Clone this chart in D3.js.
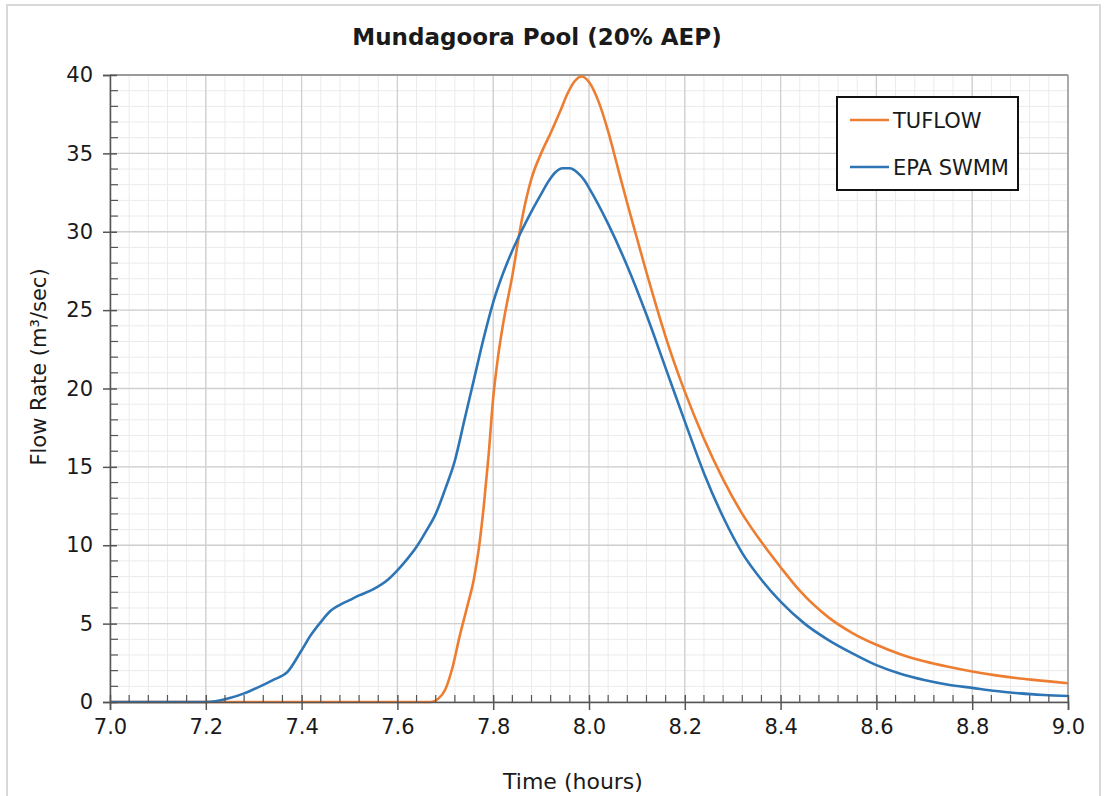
<!DOCTYPE html>
<html><head><meta charset="utf-8">
<script src="https://cdn.jsdelivr.net/npm/d3@7"></script>
<style>
body{margin:0;background:#fff;}
text{font-family:"DejaVu Sans",Verdana,sans-serif;fill:#1a1a1a;}
</style>
</head><body>
<svg id="chart" width="1104" height="796"></svg>
<script>
const chartTitle = "Mundagoora Pool (20% AEP)";
const xTitle = "Time (hours)";
const yTitle = "Flow Rate (m³/sec)";
const seriesNames = ["TUFLOW", "EPA SWMM"];
const seriesColors = ["#ED7D31", "#2E75B6"];

const tuflowTime = [7.00, 7.30, 7.60, 7.67, 7.685, 7.70, 7.715, 7.73, 7.745, 7.76, 7.77, 7.78, 7.79, 7.80, 7.81, 7.82, 7.84, 7.86, 7.88, 7.90, 7.92, 7.94, 7.955, 7.97, 7.985, 8.00, 8.02, 8.04, 8.06, 8.08, 8.10, 8.12, 8.14, 8.16, 8.20, 8.24, 8.28, 8.32, 8.36, 8.40, 8.44, 8.50, 8.55, 8.60, 8.65, 8.70, 8.75, 8.80, 8.85, 8.90, 8.95, 9.00];
const tuflowFlow = [0, 0, 0, 0, 0.2, 0.8, 2.2, 4.2, 6.0, 7.9, 9.8, 12.4, 15.6, 19.4, 22.0, 24.0, 27.2, 30.8, 33.4, 35.0, 36.3, 37.7, 38.8, 39.6, 39.9, 39.55, 38.3, 36.4, 34.1, 31.8, 29.6, 27.4, 25.3, 23.3, 19.8, 16.8, 14.2, 12.0, 10.2, 8.6, 7.1, 5.4, 4.4, 3.65, 3.05, 2.6, 2.25, 1.95, 1.7, 1.5, 1.35, 1.2];

const swmmTime = [7.00, 7.10, 7.20, 7.22, 7.25, 7.28, 7.31, 7.34, 7.37, 7.40, 7.42, 7.44, 7.46, 7.48, 7.50, 7.52, 7.55, 7.58, 7.60, 7.62, 7.64, 7.66, 7.68, 7.70, 7.72, 7.74, 7.76, 7.78, 7.80, 7.82, 7.84, 7.86, 7.88, 7.90, 7.915, 7.93, 7.945, 7.96, 7.975, 7.99, 8.00, 8.04, 8.08, 8.12, 8.16, 8.20, 8.24, 8.28, 8.32, 8.36, 8.40, 8.45, 8.50, 8.55, 8.60, 8.65, 8.70, 8.75, 8.80, 8.85, 8.90, 8.95, 9.00];
const swmmFlow = [0, 0, 0, 0.05, 0.25, 0.55, 0.95, 1.4, 1.9, 3.3, 4.3, 5.1, 5.8, 6.2, 6.5, 6.8, 7.2, 7.8, 8.4, 9.1, 9.9, 10.9, 12.0, 13.6, 15.4, 18.0, 20.6, 23.2, 25.5, 27.3, 28.8, 30.1, 31.3, 32.4, 33.2, 33.8, 34.05, 34.05, 33.8, 33.3, 32.8, 30.5, 27.8, 24.7, 21.3, 17.9, 14.6, 11.8, 9.5, 7.8, 6.4, 5.0, 3.95, 3.1, 2.35, 1.8, 1.4, 1.1, 0.9, 0.7, 0.55, 0.45, 0.38];

const xTickValues = [7.0, 7.2, 7.4, 7.6, 7.8, 8.0, 8.2, 8.4, 8.6, 8.8, 9.0];
const yTickValues = [0, 5, 10, 15, 20, 25, 30, 35, 40];

const svg = d3.select("#chart");
const m = {left: 110, right: 1068, top: 75, bottom: 702};

const x = d3.scaleLinear().domain([7, 9]).range([m.left, m.right]);
const y = d3.scaleLinear().domain([0, 40]).range([m.bottom, m.top]);

// outer frame
svg.append("rect").attr("x", 7).attr("y", 5).attr("width", 1093).attr("height", 800)
  .attr("fill", "#fff").attr("stroke", "#d9d9d9").attr("stroke-width", 2);

const g = svg.append("g");
// minor grid
const xMinor = d3.range(0, 51).map(i => 7 + i * 0.04);
const yMinor = d3.range(0, 41);
g.append("g").selectAll("line").data(xMinor).join("line")
  .attr("x1", d => x(d)).attr("x2", d => x(d)).attr("y1", m.top).attr("y2", m.bottom)
  .attr("stroke", "#ebebeb").attr("stroke-width", 1);
g.append("g").selectAll("line").data(yMinor).join("line")
  .attr("y1", d => y(d)).attr("y2", d => y(d)).attr("x1", m.left).attr("x2", m.right)
  .attr("stroke", "#ebebeb").attr("stroke-width", 1);
// major grid
g.append("g").selectAll("line").data(xTickValues).join("line")
  .attr("x1", d => x(d)).attr("x2", d => x(d)).attr("y1", m.top).attr("y2", m.bottom)
  .attr("stroke", "#cfcfcf").attr("stroke-width", 1.3);
g.append("g").selectAll("line").data(yTickValues).join("line")
  .attr("y1", d => y(d)).attr("y2", d => y(d)).attr("x1", m.left).attr("x2", m.right)
  .attr("stroke", "#cfcfcf").attr("stroke-width", 1.3);

// plot border top/right
g.append("line").attr("x1", m.left).attr("x2", m.right).attr("y1", m.top).attr("y2", m.top)
  .attr("stroke", "#9a9a9a").attr("stroke-width", 2);
g.append("line").attr("x1", m.right).attr("x2", m.right).attr("y1", m.top).attr("y2", m.bottom)
  .attr("stroke", "#9a9a9a").attr("stroke-width", 1.5);

// lines
const line = d3.line().x(d => x(d[0])).y(d => y(d[1])).curve(d3.curveMonotoneX);
const tuflowData = tuflowTime.map((t, i) => [t, tuflowFlow[i]]);
const swmmData = swmmTime.map((t, i) => [t, swmmFlow[i]]);
g.append("path").datum(tuflowData).attr("d", line).attr("fill", "none")
  .attr("stroke", seriesColors[0]).attr("stroke-width", 2.6).attr("stroke-linejoin", "round");
g.append("path").datum(swmmData).attr("d", line).attr("fill", "none")
  .attr("stroke", seriesColors[1]).attr("stroke-width", 2.6).attr("stroke-linejoin", "round");

// axes
const axisColor = "#555";
const yAxis = svg.append("g").attr("transform", `translate(${m.left},0)`)
  .call(d3.axisLeft(y).tickValues(yTickValues).tickSize(7).tickPadding(10).tickFormat(d3.format("d")));
yAxis.select(".domain").attr("stroke", axisColor).attr("stroke-width", 1.5);
yAxis.selectAll(".tick line").attr("stroke", axisColor).attr("stroke-width", 1.5).attr("x2", -7).attr("x1", 7);
yAxis.selectAll("text").attr("font-size", 21).attr("fill", "#1a1a1a").attr("font-family", "DejaVu Sans");
yAxis.append("g").selectAll("line").data(yMinor.filter(d => d % 5 !== 0)).join("line")
  .attr("x1", 0).attr("x2", 8).attr("y1", d => y(d)).attr("y2", d => y(d))
  .attr("stroke", axisColor).attr("stroke-width", 1.2);

const xAxis = svg.append("g").attr("transform", `translate(0,${m.bottom})`)
  .call(d3.axisBottom(x).tickValues(xTickValues).tickSize(8).tickPadding(9).tickFormat(d3.format(".1f")));
xAxis.select(".domain").attr("stroke", axisColor).attr("stroke-width", 1.5);
xAxis.selectAll(".tick line").attr("stroke", axisColor).attr("stroke-width", 1.5).attr("y1", -7).attr("y2", 8);
xAxis.selectAll("text").attr("font-size", 21).attr("fill", "#1a1a1a").attr("font-family", "DejaVu Sans");
xAxis.append("g").selectAll("line").data(xMinor.filter((d, i) => i % 5 !== 0)).join("line")
  .attr("x1", d => x(d)).attr("x2", d => x(d)).attr("y1", 0).attr("y2", -7)
  .attr("stroke", axisColor).attr("stroke-width", 1.2);

// titles
svg.append("text").attr("x", 537).attr("y", 45).attr("text-anchor", "middle")
  .attr("font-size", 23).attr("font-weight", "bold").text(chartTitle);
svg.append("text").attr("x", 573).attr("y", 789).attr("text-anchor", "middle")
  .attr("font-size", 22).text(xTitle);
svg.append("text").attr("transform", "translate(46,367) rotate(-90)").attr("text-anchor", "middle")
  .attr("font-size", 21).text(yTitle);

// legend
const lg = svg.append("g");
lg.append("rect").attr("x", 837).attr("y", 97).attr("width", 181).attr("height", 93)
  .attr("fill", "#fff").attr("stroke", "#111").attr("stroke-width", 2);
seriesNames.forEach((name, i) => {
  const ly = 120 + i * 47;
  lg.append("line").attr("x1", 850).attr("x2", 889).attr("y1", ly).attr("y2", ly)
    .attr("stroke", seriesColors[i]).attr("stroke-width", 2.6);
  lg.append("text").attr("x", 893).attr("y", ly + 8).attr("font-size", 21).text(name);
});
</script>
</body></html>
